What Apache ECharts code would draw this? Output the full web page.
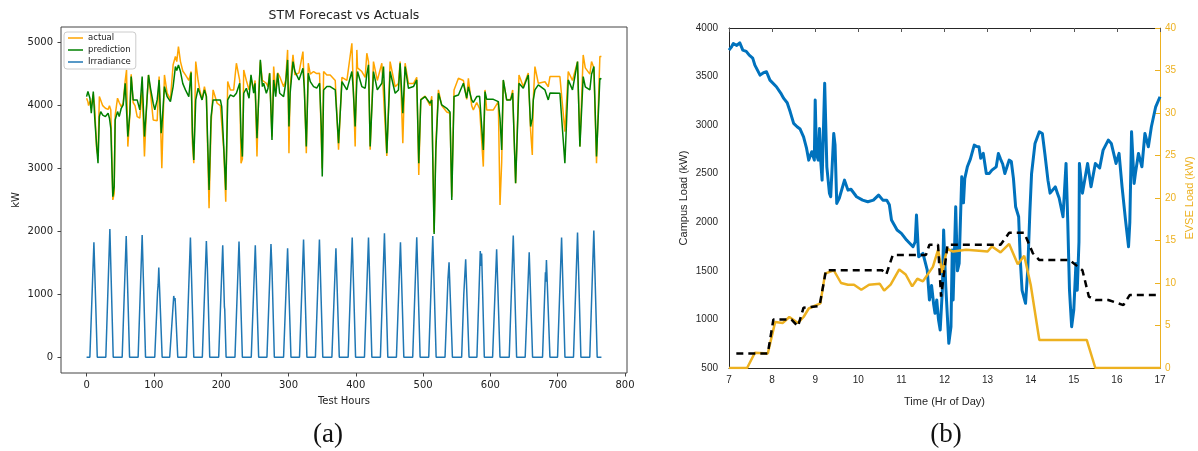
<!DOCTYPE html>
<html>
<head>
<meta charset="utf-8">
<script src="https://cdn.jsdelivr.net/npm/echarts@6/dist/echarts.min.js"></script>
<style>
html,body{margin:0;padding:0;background:#fff;}
#chart{width:1198px;height:451px;}
</style>
</head>
<body>
<div id="chart"></div>
<script>
// ---------- Panel (a): STM forecast vs actuals (polyline vertices, hour -> kW) ----------
const loadHours = [0,2,3,5,7,9,10,12,15,17,19,21,24,28,32,34,36,39,41,42.5,46,48.5,51.5,54.4,57.4,59.4,61.3,64.3,66.3,69.2,72,75.2,79.1,82.6,86,89,92,95,99,101.4,104.9,107.8,110.8,111.8,115.7,119.7,124.6,128.6,132,134,136.5,139.5,143,146.9,151.9,155.3,157.3,159.3,162.2,165.7,168.2,171.6,175.1,178,182,185,188,194,198.8,200.8,203.8,206.8,209.7,213.7,218.6,222.6,227.5,229.5,231.5,233.5,237.4,241.4,244.3,248.3,250.3,253.2,255.7,258.2,261.2,263.1,267.1,269.6,272,275.5,278,281,283.9,286.9,292.8,295.8,298.7,300.7,302.5,306.7,309.6,315.6,321.5,323.5,326.5,329.4,332.4,337.3,342,346.2,348.7,350.2,352.2,357,362,369.5,374.4,379.4,386.8,394.2,396,399.1,401.6,402.6,409,414,416.4,418.9,421.4,426.3,432,438.7,441.2,446.1,451,458.5,463.4,465.9,469.9,473.3,478.3,485.7,490.6,493.6,496.6,503,510.4,512.9,516.4,519,522.8,527.7,535.2,540,542.6,546,552.5,559.9,564.8,567.3,572.2,574.7,579.7,584,589.5,592,594.5,597,604.4,611.8,614.3,616.8,619.2,624.2,630.1,633.1,637.5,642.5,648.9,656.3,659.8,662.3,663.8,666.2,671.2,681.1,686,688.5,691,703.3,710.7,715.7,722,729.5,733,737.9,741,747.8,750.3,753.8,757.7,762.7,765];
const actualKW = [4118,4060,4000,4064,4000,4120,4180,3980,3300,3200,4144,4130,4000,3958,3940,4000,3932,2501,2600,3850,4118,4050,3985,4040,4400,4568,3349,3850,4500,4050,4000,3826,3800,4250,3190,3950,4488,4200,3773,3747,3760,4462,3400,3005,4488,4200,4100,4650,4780,4700,4939,4700,4550,4488,4400,4542,3400,3084,4700,4400,4250,4091,4303,4150,2369,3700,4250,4038,4000,3985,3300,2474,4382,4250,4250,4674,4400,3084,3150,4568,4400,4250,4435,4250,4400,3190,4200,4700,4400,4380,4356,4300,4520,3508,4621,4200,4520,4462,4300,4400,4886,3243,4300,4806,4488,4520,4860,4300,3243,4674,4500,4542,4510,4515,3481,3000,4542,4488,4488,4400,3300,4450,4400,4992,4400,3349,4886,4600,4542,4450,4833,4700,3300,4700,4400,4674,4650,3200,4700,4300,4350,4700,3402,4674,4350,4350,4450,2899,4100,4150,4000,4150,1990,3400,4250,4000,3900,3880,2550,4250,4435,4400,4100,4435,4000,3932,4050,3950,3031,4250,3932,3932,3932,4064,2421,3100,4400,4091,4100,4250,2766,4488,4300,4520,3600,3216,4100,4621,4356,4380,4300,4462,4462,4462,3587,4542,4400,4700,3349,4806,4600,4500,4700,4600,3084,4780,4780];
const predictionKW = [4144,4224,4200,4118,3879,3900,4224,3826,3349,3084,3826,3905,3850,3826,3879,3800,3640,2554,2713,3773,3905,3826,3958,4011,4356,4382,3508,3879,4462,4091,4060,4091,3932,4462,3508,3958,4488,4276,4038,3932,4091,4409,3561,3667,4303,4144,4064,4303,4621,4560,4648,4542,4350,4250,4144,4526,3561,3137,4091,4276,4197,4091,4250,4144,2660,3826,4091,4091,4091,3985,3349,2660,4091,4170,4144,4197,4356,3508,3190,4197,4276,4118,4488,4197,4356,3481,4091,4727,4303,4356,4197,4276,4515,3455,4409,4144,4515,4197,4144,4356,4727,3667,4200,4700,4542,4409,4595,4276,3349,4515,4382,4303,4280,4356,3667,2872,4250,4303,4303,4250,3402,4382,4250,4542,4300,3667,4400,4542,4303,4276,4500,4648,3349,4542,4250,4356,4621,3243,4542,4197,4250,4674,3879,4621,4276,4303,4409,3084,4091,4144,4038,4091,1960,3300,4197,4011,3958,3900,2501,4144,4170,4356,4118,4300,4091,4050,4144,4150,3296,4224,4100,4091,4100,4064,3800,3296,4409,4091,4091,4200,2766,4356,4276,4488,3667,3800,4091,4250,4329,4250,4091,4200,4224,4197,3084,4409,4250,4700,3349,4462,4300,4250,4500,4621,3190,4435,4420];
const irrHours = [0,4.9,10.9,15.9, 28.6,34.6,39.6, 52.9,58.9,63.9, 76.6,82.6,87.6, 101.3,105.5,106.3,107.3,112.3, 123.5,129.5,130.5,131.5,135.5, 148.3,154.3,159.3, 172,178,179.5,183, 196.3,202.3,204.8,205.3,207.3, 220.5,226.5,231.5, 244.7,250.7,255.7, 268,274,275.5,279, 292.7,298.7,303.7, 316.4,322.4,327.4, 340,346,351, 364.5,370.5,375.5, 388.7,394.7,399.7, 412.9,418.9,423.9, 436.6,442.6,447.6, 460.4,466.4,471.4, 484.6,490.6,495.6, 508.4,514.4,519.4, 532.6,537,538.6,543.6, 557.3,560.5,563.3,568.3, 580,585,586,587,591, 603.3,609.3,614.3, 628,634,639, 651.7,657.7,662.7, 677.5,681.8,682.3,683.3,688.5, 699.8,705.8,710.8, 723.5,729.5,734.5, 747.7,753.7,758.7,765];
const irrKW = [0,0,1828,0, 0,2040,0, 0,1929,0, 0,1945,0, 0,1050,1150,1425,0, 0,975,900,940,0, 0,1902,0, 0,1849,1415,0, 0,1780,800,760,0, 0,1840,0, 0,1780,0, 0,1800,1400,0, 0,1733,0, 0,1870,0, 0,1870,0, 0,1733,0, 0,1902,0, 0,1902,0, 0,1971,0, 0,1828,0, 0,1908,0, 0,1929,0, 0,1250,1510,0, 0,1000,1558,0, 0,1690,1450,1650,0, 0,1717,0, 0,1934,0, 0,1670,0, 0,1350,1200,1547,0, 0,1902,0, 0,1982,0, 0,2013,0,0];
const aXTicks = [0,100,200,300,400,500,600,700,800];
const aYTicks = [0,1000,2000,3000,4000,5000];

// ---------- Panel (b): campus load and EVSE load over the day ----------
const campusHours = [7.0,7.05,7.1,7.18,7.25,7.32,7.4,7.47,7.55,7.6,7.72,7.8,7.87,7.95,8.1,8.2,8.27,8.35,8.42,8.5,8.58,8.65,8.73,8.8,8.85,8.92,8.98,9.0,9.03,9.07,9.1,9.13,9.16,9.22,9.27,9.33,9.36,9.43,9.46,9.5,9.56,9.68,9.76,9.83,9.96,10.1,10.22,10.35,10.47,10.57,10.66,10.72,10.77,10.9,11.0,11.12,11.27,11.32,11.35,11.4,11.5,11.6,11.65,11.7,11.75,11.78,11.82,11.86,11.9,11.95,11.98,12.03,12.1,12.15,12.18,12.2,12.26,12.3,12.34,12.4,12.44,12.47,12.53,12.6,12.69,12.75,12.8,12.84,12.9,12.97,13.04,13.1,13.2,13.25,13.3,13.35,13.4,13.5,13.55,13.6,13.65,13.72,13.76,13.8,13.88,13.93,13.98,14.02,14.1,14.2,14.27,14.33,14.4,14.45,14.57,14.62,14.66,14.75,14.82,14.86,14.9,14.95,15.0,15.05,15.08,15.12,15.13,15.2,15.32,15.4,15.5,15.6,15.68,15.8,15.87,15.98,16.05,16.12,16.2,16.27,16.3,16.34,16.4,16.43,16.5,16.58,16.65,16.73,16.8,16.9,17.0];
const campusKW = [3772,3800,3841,3820,3848,3772,3760,3720,3690,3618,3515,3540,3550,3463,3395,3330,3275,3230,3137,3018,2983,2960,2880,2760,2640,2726,2640,3258,2700,2640,2966,2620,2434,3430,2571,2300,2263,2914,2800,2194,2250,2434,2331,2340,2263,2228,2211,2228,2280,2228,2228,2180,2023,1920,1886,1817,1748,1800,2074,1645,1680,1508,1200,1350,1150,1063,1200,1000,891,1300,1920,1337,754,925,1714,1200,2160,1500,1577,2468,2200,2450,2571,2650,2794,2780,2777,2660,2709,2503,2503,2537,2571,2709,2650,2600,2503,2640,2626,2450,2160,2057,1600,1300,1166,1500,2100,2500,2812,2931,2914,2700,2434,2300,2365,2300,2250,2057,2606,2000,1300,925,1100,1577,1300,1800,2606,2300,2606,2365,2606,2560,2743,2846,2812,2606,2709,2365,2023,1748,2000,2931,2400,2503,2709,2571,2914,2777,2983,3189,3292];
const evseHours = [7.0,7.42,7.6,7.9,8.07,8.25,8.4,8.6,8.73,8.85,9.12,9.23,9.43,9.6,9.76,9.9,10.07,10.25,10.5,10.6,10.75,10.95,11.1,11.25,11.37,11.5,11.73,11.85,11.95,12.02,12.07,12.2,12.5,12.8,13.0,13.1,13.3,13.5,13.7,13.85,14.0,14.2,15.3,15.5,17.0];
const evseKW = [0,0,1.8,1.7,5.4,5.3,6.0,5.3,6.0,7.0,7.6,11.1,11.5,10.0,9.8,9.8,9.2,9.8,9.9,9.1,9.8,11.6,11.0,9.6,10.5,10.2,11.9,13.9,11.2,13.1,14.0,13.7,13.9,13.8,13.7,14.3,13.6,14.6,12.2,13.2,9.8,3.3,3.3,0,0];
const evseFcHours = [7.17,7.9,8.03,8.45,8.6,8.73,9.1,9.25,10.55,10.65,10.8,11.57,11.65,11.85,11.92,12.07,13.3,13.5,13.85,14.05,14.2,14.9,15.2,15.35,15.5,15.8,16.15,16.3,16.95];
const evseFcKW = [1.7,1.7,5.7,5.7,4.9,7.1,7.3,11.5,11.5,11.0,13.3,13.3,14.5,14.5,8.4,14.5,14.5,15.9,15.9,13.5,12.7,12.7,11.5,8.4,8.0,8.0,7.4,8.6,8.6];

const pairs = (xs, ys) => xs.map((x, i) => [x, ys[i]]);
const plain = v => String(v);

const chart = echarts.init(document.getElementById('chart'), null, { renderer: 'canvas' });

const fontA = 'DejaVu Sans';
const fontB = 'Liberation Sans';
const evseColor = '#EDB120';

chart.setOption({
  animation: false,
  backgroundColor: '#ffffff',
  grid: [
    { left: 61, top: 27, width: 566, height: 346, show: true, borderColor: '#444', borderWidth: 1, backgroundColor: 'transparent' },
    { left: 729, top: 28, width: 431, height: 340, show: false }
  ],
  legend: {
    data: [
      { name: 'actual', icon: 'rect' },
      { name: 'prediction', icon: 'rect' },
      { name: 'Irradiance', icon: 'rect' }
    ],
    orient: 'vertical',
    left: 64, top: 32,
    itemWidth: 15, itemHeight: 1.5, itemGap: 2,
    padding: [1, 5, 2, 4],
    borderColor: '#cccccc', borderWidth: 1, borderRadius: 3,
    backgroundColor: '#ffffff',
    textStyle: { fontFamily: fontA, fontSize: 8.5, color: '#222', lineHeight: 10 }
  },
  xAxis: [
    {
      gridIndex: 0, type: 'value', min: -38, max: 803,
      name: 'Test Hours', nameLocation: 'middle', nameGap: 23,
      nameTextStyle: { fontFamily: fontA, fontSize: 10, color: '#222' },
      axisLine: { show: false, onZero: false },
      axisTick: { show: true, customValues: aXTicks, length: 3.5, lineStyle: { color: '#444' } },
      axisLabel: { customValues: aXTicks, formatter: plain, fontFamily: fontA, fontSize: 10, color: '#222', margin: 7 },
      splitLine: { show: false }
    },
    {
      gridIndex: 1, type: 'value', min: 7, max: 17, interval: 1, position: 'bottom',
      name: 'Time (Hr of Day)', nameLocation: 'middle', nameGap: 28,
      nameTextStyle: { fontFamily: fontB, fontSize: 11, color: '#262626' },
      axisLine: { show: true, onZero: false, lineStyle: { color: '#262626', width: 1 } },
      axisTick: { show: false },
      axisLabel: { formatter: plain, fontFamily: fontB, fontSize: 10, color: '#262626', margin: 7 },
      splitLine: { show: false }
    },
    {
      gridIndex: 1, type: 'value', min: 7, max: 17, interval: 1, position: 'top',
      axisLine: { show: true, onZero: false, lineStyle: { color: '#262626', width: 1 } },
      axisTick: { show: true, inside: true, length: 4, lineStyle: { color: '#555' } },
      axisLabel: { show: false },
      splitLine: { show: false }
    }
  ],
  yAxis: [
    {
      gridIndex: 0, type: 'value', min: -250, max: 5250,
      name: 'kW', nameLocation: 'middle', nameGap: 40, nameRotate: 90,
      nameTextStyle: { fontFamily: fontA, fontSize: 10, color: '#222' },
      axisLine: { show: false, onZero: false },
      axisTick: { show: true, customValues: aYTicks, length: 3.5, lineStyle: { color: '#444' } },
      axisLabel: { customValues: aYTicks, formatter: plain, fontFamily: fontA, fontSize: 10, color: '#222', margin: 8 },
      splitLine: { show: false }
    },
    {
      gridIndex: 1, type: 'value', min: 500, max: 4000, interval: 500, position: 'left',
      name: 'Campus Load (kW)', nameLocation: 'middle', nameGap: 40, nameRotate: 90,
      nameTextStyle: { fontFamily: fontB, fontSize: 11, color: '#262626' },
      axisLine: { show: true, onZero: false, lineStyle: { color: '#262626', width: 1 } },
      axisTick: { show: false },
      axisLabel: { formatter: plain, fontFamily: fontB, fontSize: 10, color: '#262626', margin: 11 },
      splitLine: { show: false }
    },
    {
      gridIndex: 1, type: 'value', min: 0, max: 40, interval: 5, position: 'right',
      name: 'EVSE Load (kW)', nameLocation: 'middle', nameGap: 24, nameRotate: 90,
      nameTextStyle: { fontFamily: fontB, fontSize: 11, color: evseColor },
      axisLine: { show: true, onZero: false, lineStyle: { color: evseColor, width: 1 } },
      axisTick: { show: true, inside: true, length: 5, lineStyle: { color: evseColor } },
      axisLabel: { formatter: plain, fontFamily: fontB, fontSize: 10, color: evseColor, margin: 5 },
      splitLine: { show: false }
    }
  ],
  series: [
    {
      name: 'actual', type: 'line', xAxisIndex: 0, yAxisIndex: 0,
      data: pairs(loadHours, actualKW), showSymbol: false, symbol: 'none',
      lineStyle: { color: '#FFA500', width: 1.5 }, itemStyle: { color: '#FFA500' }
    },
    {
      name: 'prediction', type: 'line', xAxisIndex: 0, yAxisIndex: 0,
      data: pairs(loadHours, predictionKW), showSymbol: false, symbol: 'none',
      lineStyle: { color: '#008000', width: 1.5 }, itemStyle: { color: '#008000' }
    },
    {
      name: 'Irradiance', type: 'line', xAxisIndex: 0, yAxisIndex: 0,
      data: pairs(irrHours, irrKW), showSymbol: false, symbol: 'none',
      lineStyle: { color: '#1f77b4', width: 1.5 }, itemStyle: { color: '#1f77b4' }
    },
    {
      name: 'Campus Load', type: 'line', xAxisIndex: 1, yAxisIndex: 1,
      data: pairs(campusHours, campusKW), showSymbol: false, symbol: 'none',
      lineStyle: { color: '#0072BD', width: 3, join: 'round' }
    },
    {
      name: 'EVSE Load', type: 'line', xAxisIndex: 1, yAxisIndex: 2,
      data: pairs(evseHours, evseKW), showSymbol: false, symbol: 'none',
      lineStyle: { color: evseColor, width: 2.5 }
    },
    {
      name: 'EVSE Forecast', type: 'line', xAxisIndex: 1, yAxisIndex: 2,
      data: pairs(evseFcHours, evseFcKW), showSymbol: false, symbol: 'none',
      lineStyle: { color: '#000000', width: 2.5, type: [7, 5] }
    }
  ],
  graphic: [
    {
      type: 'text', x: 344, y: 16,
      style: { text: 'STM Forecast vs Actuals', font: '12.5px "DejaVu Sans"', fill: '#222', textAlign: 'center', textVerticalAlign: 'middle', verticalAlign: 'middle' }
    },
    {
      type: 'text', x: 328, y: 435,
      style: { text: '(a)', font: '27px "Liberation Serif"', fill: '#111', textAlign: 'center', textVerticalAlign: 'middle', verticalAlign: 'middle' }
    },
    {
      type: 'text', x: 946, y: 435,
      style: { text: '(b)', font: '27px "Liberation Serif"', fill: '#111', textAlign: 'center', textVerticalAlign: 'middle', verticalAlign: 'middle' }
    }
  ]
});
</script>
</body>
</html>
